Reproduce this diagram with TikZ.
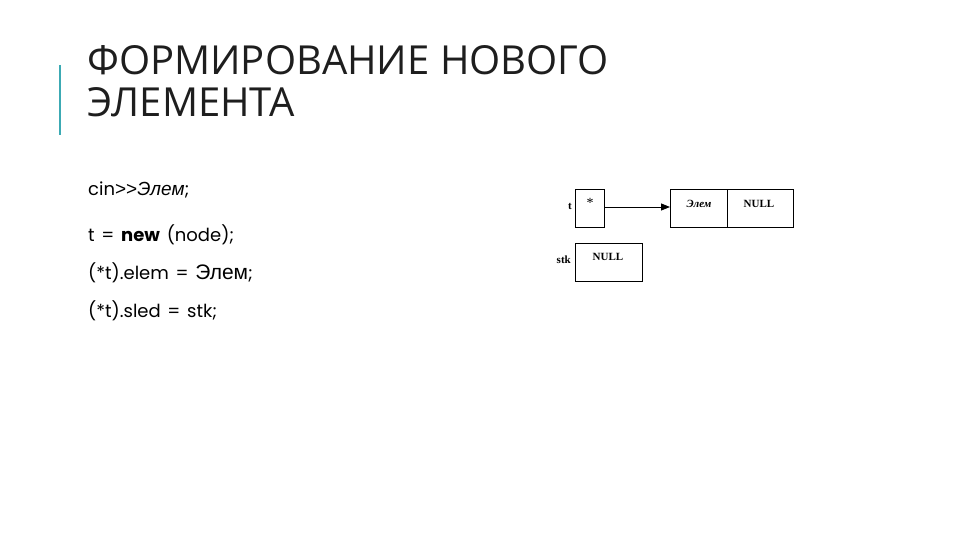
\documentclass[tikz,border=0pt]{standalone}
\usepackage{fontspec}
\setmainfont{Liberation Serif}
\newfontfamily\titlefont{Open Sans}
\newfontfamily\codefont[WordSpace=1.4]{Poppins}
\newfontfamily\arialfont{Liberation Sans}
\usetikzlibrary{arrows.meta}
\definecolor{teal}{RGB}{60,170,180}
\definecolor{titlegray}{RGB}{30,30,30}
\tikzset{
  cell/.style={draw, line width=0.9pt, minimum width=#1, minimum height=38pt, inner sep=0pt},
  code/.style={anchor=base west, inner sep=0pt, font=\codefont\fontsize{18}{20}\selectfont},
  lbl/.style={inner sep=0pt, font=\fontsize{11}{12}\selectfont\bfseries},
  ttl/.style={anchor=base west, inner sep=0pt, text=titlegray, font=\titlefont\fontsize{40}{44}\selectfont},
}
\begin{document}
\begin{tikzpicture}[x=1pt,y=-1pt]
\useasboundingbox (0,0) rectangle (960,540);
\draw[teal, line width=2pt] (60,65) -- (60,135);
\node[ttl] (t1) at (87,75) {ФОРМИРОВАНИЕ НОВОГО};
\node[ttl] (t2) at (87,117) {ЭЛЕМЕНТА};
\node[code] (c1) at (88,196) {cin{\arialfont\fontsize{19}{20}\selectfont>>\itshape Элем};};
\node[code] (c2) at (88,241) {t = \textbf{new} (node);};
\node[code] (c3) at (88,279) {(*t).elem = {\arialfont\fontsize{21}{22}\selectfont Элем};};
\node[code] (c4) at (88,317) {(*t).sled = stk;};
% diagram
\node[cell=29pt, anchor=north west] (tb) at (575,189) {};
\node[cell=57pt, anchor=north west] (e1) at (670,189) {};
\node[cell=66pt, anchor=north west] (e2) at (727,189) {};
\node[cell=67pt, anchor=north west] (sb) at (575,243) {};
\node[lbl, anchor=east] (tl) at (572,206) {t};
\node[lbl, anchor=east] (sl) at (571,260) {stk};
\node[inner sep=0pt, font=\fontsize{14}{14}\selectfont] (st) at (590,203) {*};
\node[lbl, font=\fontsize{11}{12}\selectfont\bfseries\itshape] (el) at (699,204) {Элем};
\node[lbl, font=\fontsize{11}{12}\selectfont\bfseries] (nl) at (759,204) {NULL};
\node[lbl] (sn) at (608,257) {NULL};
\draw[-{Triangle[length=9pt,width=7pt]}, line width=0.9pt] (tb.east |- 0,207) -- (e1.west |- 0,207);
\end{tikzpicture}
\end{document}
